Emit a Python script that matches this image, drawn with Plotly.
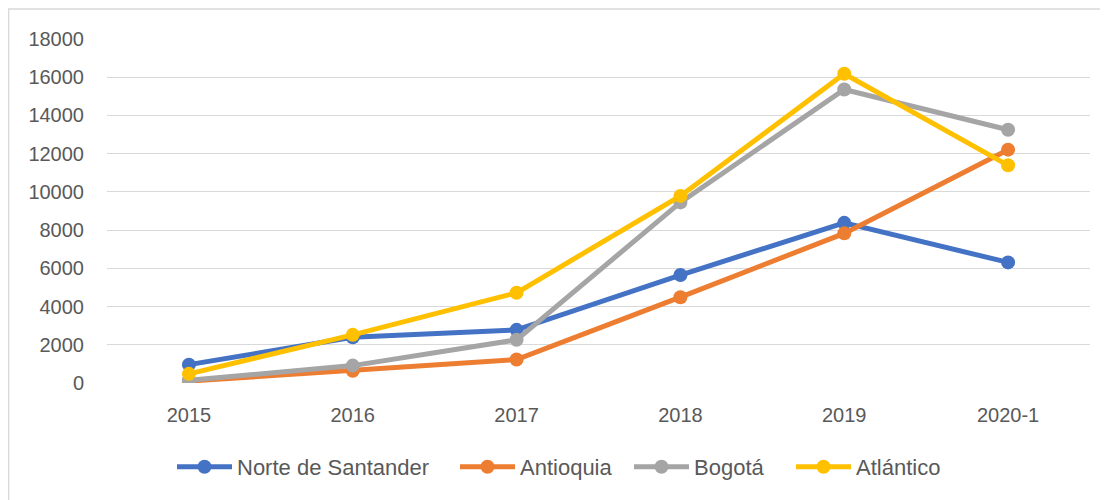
import plotly.graph_objects as go

years = ["2015", "2016", "2017", "2018", "2019", "2020-1"]
norte_de_santander = [960, 2390, 2780, 5650, 8380, 6310]
antioquia = [100, 640, 1230, 4490, 7830, 12210]
bogota = [140, 910, 2260, 9450, 15360, 13250]
atlantico = [480, 2520, 4720, 9790, 16180, 11390]

series = [
    ("Norte de Santander", norte_de_santander, "#4472C4", 213),
    ("Antioquia", antioquia, "#ED7D31", 104),
    ("Bogotá", bogota, "#A5A5A5", 92),
    ("Atlántico", atlantico, "#FFC000", 89),
]

fig = go.Figure()
for name, vals, col, lw in series:
    fig.add_trace(go.Scatter(
        x=years, y=vals, name=name, mode="lines+markers",
        line=dict(color=col, width=5),
        marker=dict(color=col, size=14),
        legendwidth=lw,
    ))

# page has an 8px body margin
OFF = 8
W, H = 1100, 492
L, R, T, B = 107 - OFF, 18, 39 - OFF, 117
pw, ph = W - L - R, H - T - B

def px_x(x):
    return (x - OFF - L) / pw

def px_y(y):
    return (H - B - (y - OFF)) / ph

fig.update_layout(
    width=W, height=H,
    margin=dict(l=L, r=R, t=T, b=B),
    paper_bgcolor="white", plot_bgcolor="white",
    font=dict(family="Liberation Sans, Arial, sans-serif", size=20, color="#595959"),
    showlegend=True,
    legend=dict(orientation="h", x=px_x(172), xanchor="left",
                y=px_y(467), yanchor="middle",
                font=dict(size=22, color="#595959"), itemwidth=55,
                tracegroupgap=0),
    xaxis=dict(type="category", showgrid=False, zeroline=False, showline=False,
               ticks="", ticklabelstandoff=18, range=[-0.5, 5.5]),
    yaxis=dict(range=[0, 18000], dtick=2000, showgrid=True, gridcolor="#D9D9D9",
               gridwidth=1.3, zeroline=False, showline=False, ticks="",
               ticklabelstandoff=22, tickformat="d"),
    shapes=[dict(type="rect", xref="paper", yref="paper",
                 x0=px_x(8.7), x1=px_x(1120),
                 y0=px_y(520), y1=px_y(9),
                 line=dict(color="#D9D9D9", width=1.3), fillcolor="rgba(0,0,0,0)",
                 layer="below")],
)

fig.write_html("out.html", config={"displayModeBar": False})
